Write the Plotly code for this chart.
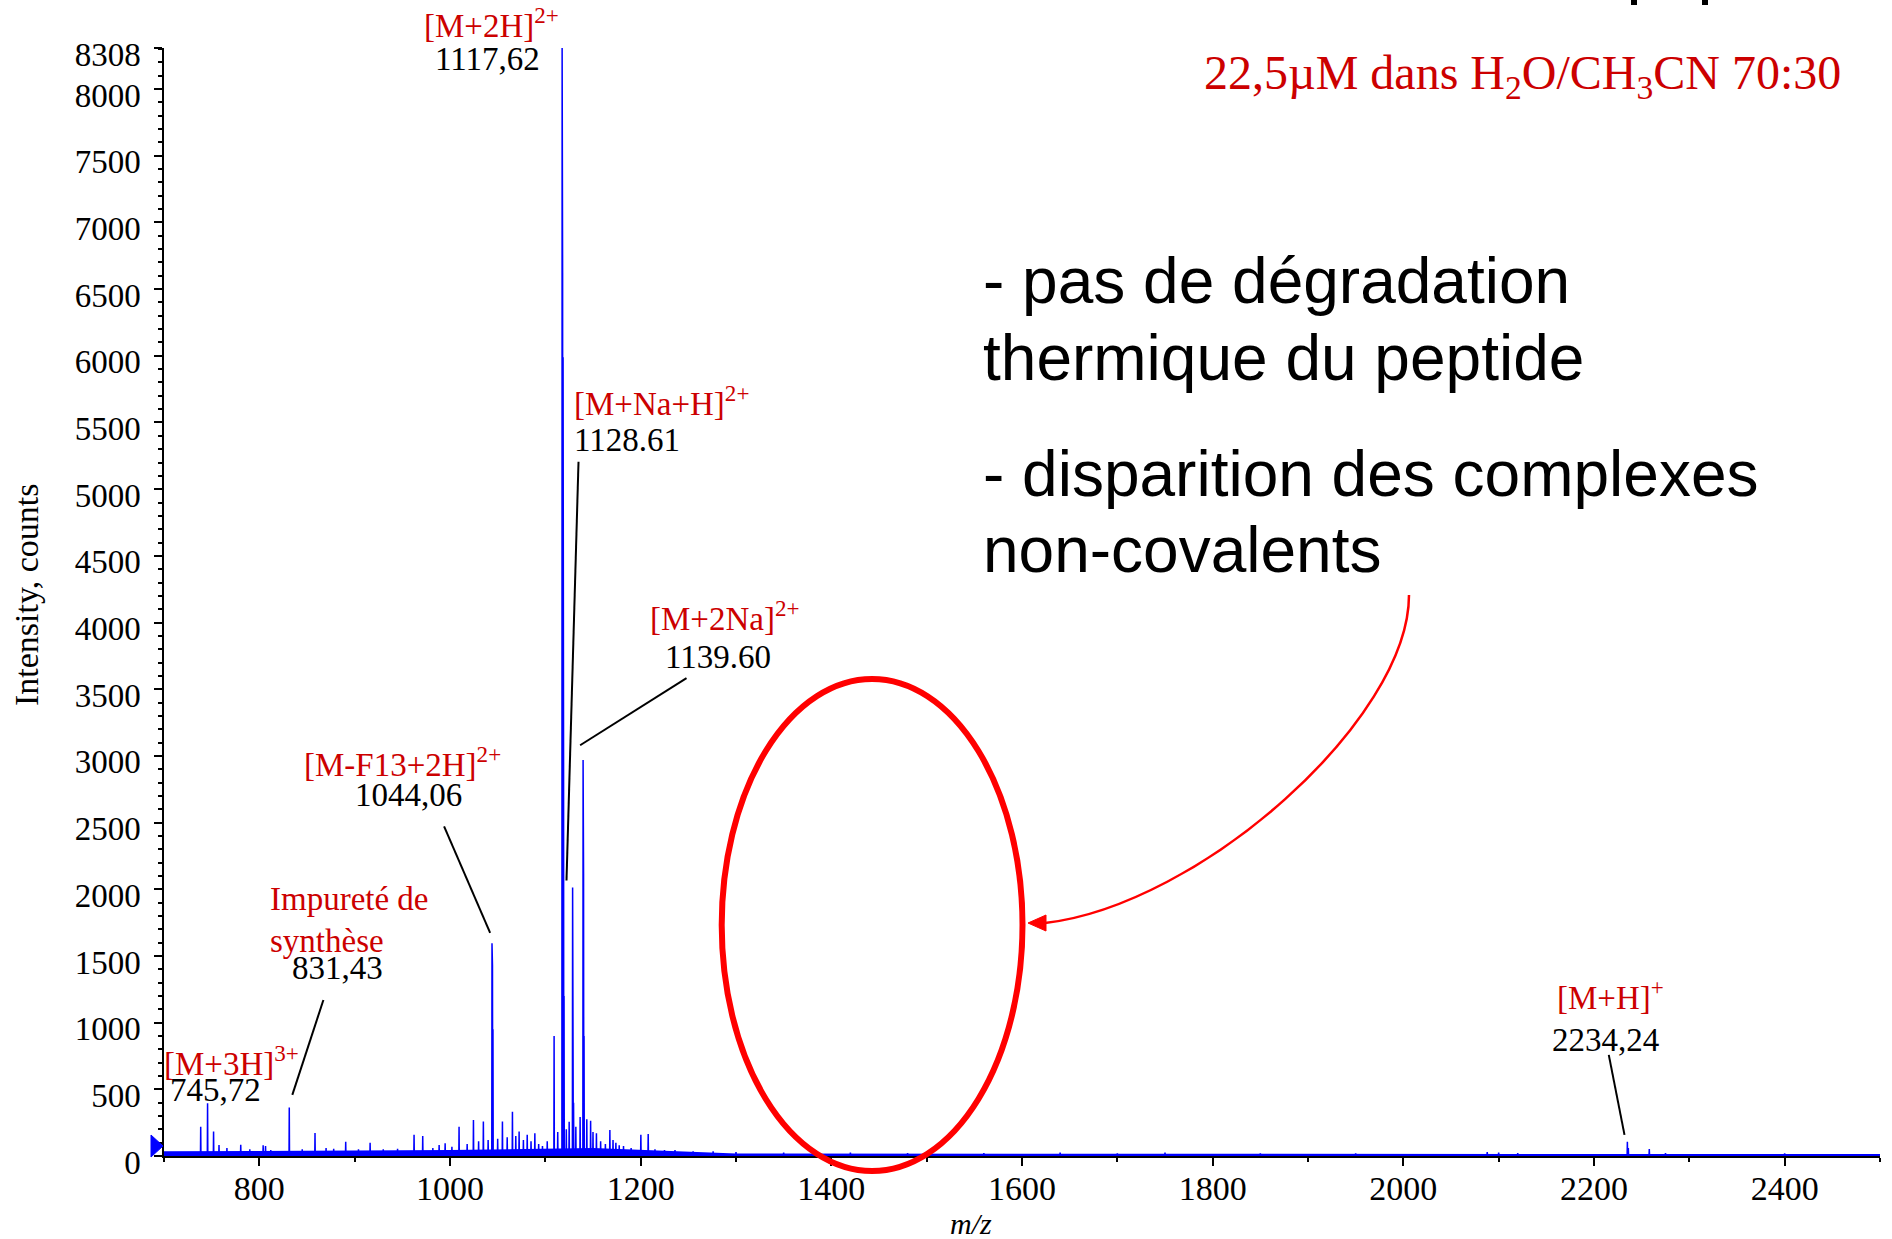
import plotly.graph_objects as go

# ---- data ----
peak_mz = [738.5, 745.7, 752.0, 757.7, 766, 780.5, 790, 804, 806.5, 812, 831.4, 845, 858.4, 870, 878,
           890.6, 904, 916.2, 930, 945, 962.3, 971.4, 982, 988.6, 994.9, 1002, 1009.5, 1018, 1024.6,
           1030, 1035.0, 1040, 1044.06, 1044.56, 1045.06, 1050, 1055, 1060, 1065.5, 1069, 1072.5,
           1077, 1081, 1085, 1089, 1093, 1097, 1102, 1109.2, 1113, 1117.62, 1118.12, 1118.62,
           1119.12, 1119.62, 1122, 1125, 1128.61, 1129.11, 1129.61, 1132, 1136.5, 1139.60, 1140.10,
           1140.60, 1143.5, 1147.5, 1150, 1153.6, 1158, 1163, 1167.7, 1171, 1174, 1177.5, 1182,
           1190, 1200.2, 1207.9, 1215, 1225, 1236, 1255, 1276, 1300, 1350, 1420, 1480, 1560, 1640,
           1700, 1750, 1850, 1950, 2088, 2100, 2120, 2235, 2236, 2258, 2275, 2400]
peak_int = [220, 395, 183, 82, 60, 85, 50, 80, 75, 45, 363, 50, 172, 60, 55,
            107, 50, 100, 50, 55, 160, 150, 60, 82, 95, 70, 220, 90, 270,
            110, 258, 120, 1595, 1430, 950, 130, 258, 140, 332, 150, 183,
            120, 160, 110, 170, 90, 75, 110, 900, 180, 8308, 6620, 5990,
            3000, 1200, 200, 257, 2013, 750, 400, 220, 292, 2970, 2120,
            900, 275, 265, 180, 170, 110, 90, 195, 120, 100, 80, 75,
            60, 160, 165, 50, 45, 45, 35, 35, 30, 25, 25, 22, 22, 25,
            20, 25, 20, 20, 30, 25, 22, 107, 60, 52, 22, 20]

noise_mz = [700, 1000, 1150, 1250, 1300, 2500]
noise_int = [35, 45, 60, 30, 18, 15]

y_ticks = [0, 500, 1000, 1500, 2000, 2500, 3000, 3500, 4000, 4500, 5000, 5500,
           6000, 6500, 7000, 7500, 8000, 8308]
x_ticks = [800, 1000, 1200, 1400, 1600, 1800, 2000, 2200, 2400]

# leader lines (from label to peak), in m/z / counts
leaders = [
    (1134.8, 5205, 1122.2, 2066),
    (1248.1, 3583, 1136.5, 3080),
    (993.8, 2471, 1042.1, 1673),
    (867.2, 1170, 834.6, 458),
    (2215.5, 758, 2232.0, 158),
]

BLUE = "#0000FF"
RED_TXT = "#CC0000"
RED = "#FF0000"
SERIF = "Liberation Serif, Times New Roman, serif"
SANS = "Liberation Sans, Arial, sans-serif"

# build the stick spectrum from the peak list
pairs = sorted(zip(peak_mz, peak_int))
xs, ys = [700], [10]
for m, h in pairs:
    xs += [m - 0.25, m, m + 0.25]
    ys += [10, h, 10]
xs.append(2500)
ys.append(10)

fig = go.Figure()
fig.add_trace(go.Scatter(x=noise_mz, y=noise_int, mode="lines", fill="tozeroy",
                         line=dict(width=0, color=BLUE), fillcolor=BLUE, hoverinfo="skip"))
fig.add_trace(go.Scatter(x=xs, y=ys, mode="lines", line=dict(color=BLUE, width=1.5)))

# plot area in pixels
L, R, T, B = 164, 1880, 48, 1156


def px(x):
    return (x - L) / (R - L)


def py(y):
    return (B - y) / (B - T)


def label(text, x, y, color="black", anchor="center", size=33, font=SERIF, italic=False):
    fig.add_annotation(text=text, x=px(x), y=py(y), xref="paper", yref="paper",
                       xanchor=anchor, yanchor="middle", showarrow=False,
                       font=dict(family=font, size=size, color=color,
                                 style="italic" if italic else "normal"))


label("[M+2H]<sup>2+</sup>", 491, 23, RED_TXT)
label("1117,62", 487, 59)
label("[M+Na+H]<sup>2+</sup>", 572, 401, RED_TXT, "left")
label("1128.61", 572, 440, anchor="left")
label("[M+2Na]<sup>2+</sup>", 725, 616, RED_TXT)
label("1139.60", 718, 657)
label("[M-F13+2H]<sup>2+</sup>", 402, 762, RED_TXT)
label("1044,06", 408, 795)
label("Impureté de", 268, 899, RED_TXT, "left")
label("synthèse", 268, 941, RED_TXT, "left")
label("831,43", 337, 968)
label("[M+3H]<sup>3+</sup>", 162, 1061, RED_TXT, "left")
label("745,72", 168, 1090, anchor="left")
label("[M+H]<sup>+</sup>", 1610, 995, RED_TXT)
label("2234,24", 1605, 1040)
label("22,5µM dans H<sub>2</sub>O/CH<sub>3</sub>CN 70:30", 1202, 76, RED_TXT, "left", size=48)

label("- pas de dégradation", 981, 281, anchor="left", size=64, font=SANS)
label("thermique du peptide", 981, 358, anchor="left", size=64, font=SANS)
label("- disparition des complexes", 981, 474, anchor="left", size=64, font=SANS)
label("non-covalents", 981, 550, anchor="left", size=64, font=SANS)

label("m/z", 971, 1223, italic=True, size=30)
fig.add_annotation(text="Intensity, counts", x=px(26), y=py(595), xref="paper", yref="paper",
                   textangle=-90, showarrow=False, xanchor="center", yanchor="middle",
                   font=dict(family=SERIF, size=34, color="black"))

for x0, y0, x1, y1 in leaders:
    fig.add_shape(type="line", x0=x0, y0=y0, x1=x1, y1=y1, xref="x", yref="y",
                  line=dict(color="black", width=2))

# red ellipse + curved arrow
fig.add_shape(type="circle", xref="paper", yref="paper",
              x0=px(721.7), x1=px(1022.5), y0=py(1171), y1=py(679),
              line=dict(color=RED, width=6))
fig.add_shape(type="path", xref="paper", yref="paper",
              path=f"M {px(1409)},{py(595)} C {px(1409)},{py(720)} {px(1200)},{py(905)} {px(1045)},{py(923)}",
              line=dict(color=RED, width=2.5))
fig.add_shape(type="path", xref="paper", yref="paper",
              path=f"M {px(1028)},{py(923)} L {px(1046)},{py(915)} L {px(1046)},{py(931)} Z",
              fillcolor=RED, line=dict(color=RED, width=1))

# blue start marker on the left axis
fig.add_shape(type="path", xref="paper", yref="paper",
              path=f"M {px(163)},{py(1146)} L {px(151)},{py(1135)} L {px(151)},{py(1157)} Z",
              fillcolor=BLUE, line=dict(color=BLUE, width=1))

# cut-off title descenders at the top edge
for xc in (1634, 1705):
    fig.add_shape(type="rect", xref="paper", yref="paper",
                  x0=px(xc - 3), x1=px(xc + 3), y0=py(5), y1=py(-2),
                  fillcolor="black", line=dict(width=0))

fig.update_layout(
    width=1892, height=1239,
    margin=dict(l=L, r=1892 - R, t=T, b=1239 - B, autoexpand=False),
    paper_bgcolor="white", plot_bgcolor="white",
    showlegend=False,
    xaxis=dict(range=[700, 2500], tickvals=x_ticks, ticks="outside", ticklen=8, tickwidth=1.5,
               tickcolor="black", showline=True, linecolor="black", linewidth=1.5,
               showgrid=False, zeroline=False, ticklabelstandoff=-7, automargin=False,
               tickfont=dict(family=SERIF, size=34, color="black"),
               minor=dict(dtick=100, tick0=700, ticks="outside", ticklen=4, tickcolor="black", tickwidth=1.5)),
    yaxis=dict(range=[0, 8308], tickvals=y_ticks, ticks="outside", ticklen=8, tickwidth=1.5,
               tickcolor="black", showline=True, linecolor="black", linewidth=1.5,
               showgrid=False, zeroline=False, ticklabelstandoff=7, ticklabelshift=6,
               automargin=False,
               tickfont=dict(family=SERIF, size=33, color="black"),
               minor=dict(dtick=100, tick0=0, ticks="outside", ticklen=4, tickcolor="black", tickwidth=1.5)),
)

# drop the default page margin so the figure sits at the window corner
fig.write_html("out.html", config={"displayModeBar": False},
               post_script="document.body.style.margin='0';document.body.style.overflow='hidden';")
